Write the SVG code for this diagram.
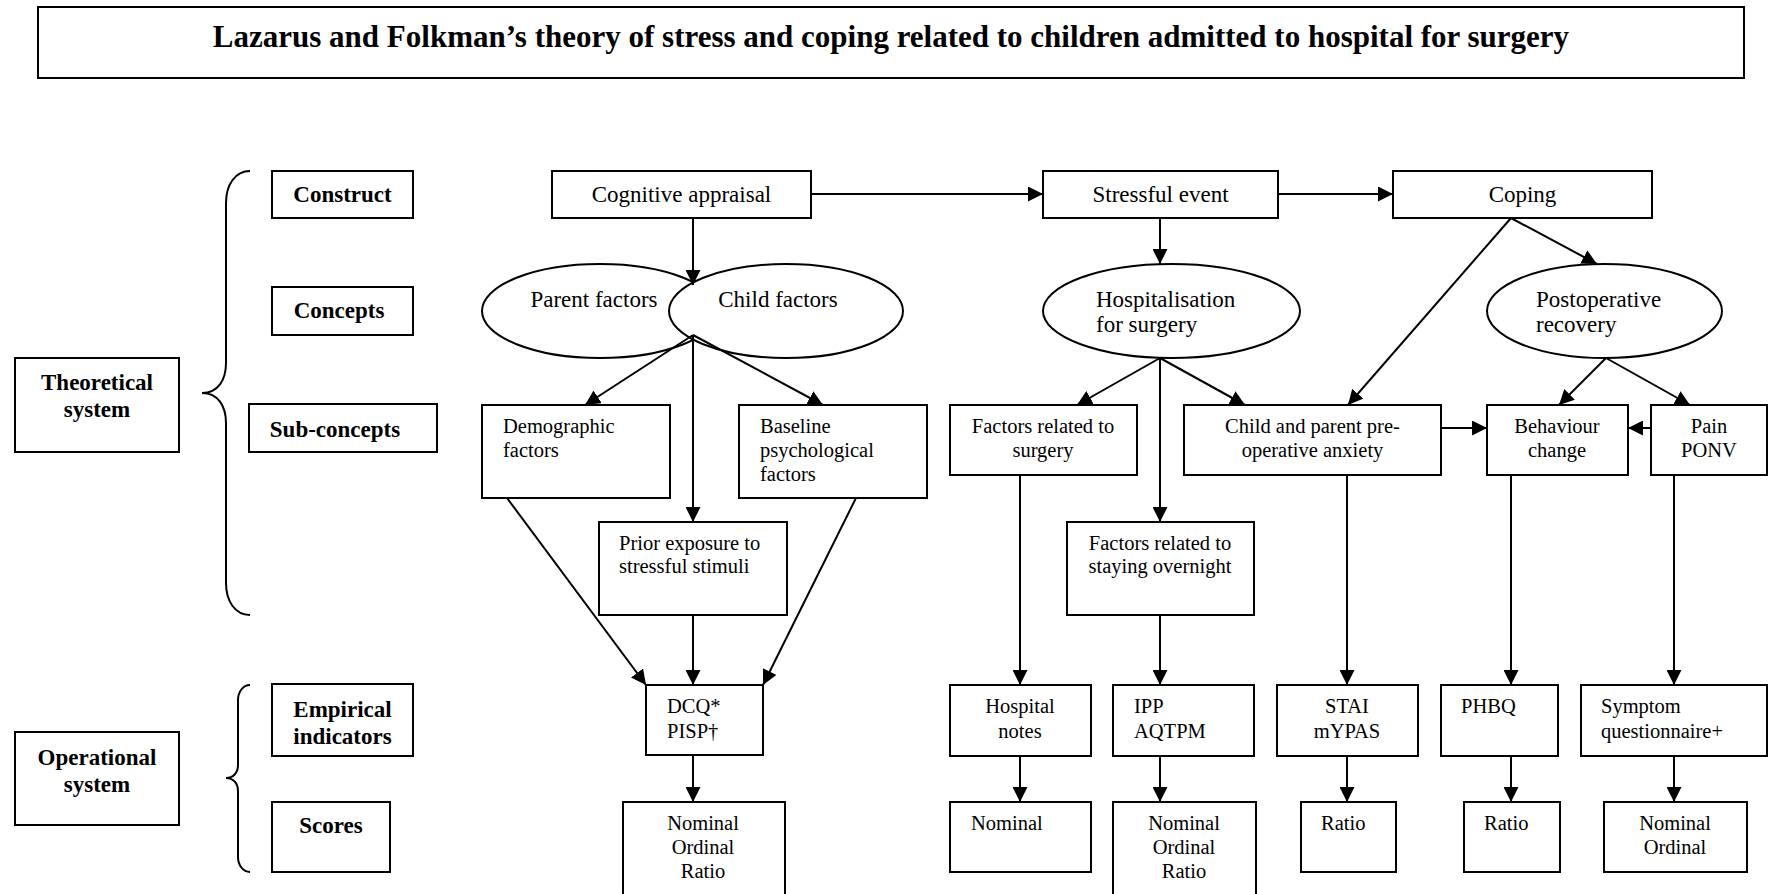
<svg xmlns="http://www.w3.org/2000/svg" width="1769" height="894" viewBox="0 0 1769 894">
<defs>
<style>
rect, ellipse { fill: none; stroke: #000; stroke-width: 2; }
.conn line { stroke: #000; stroke-width: 2; marker-end: url(#arr); }
.brace { fill: none; stroke: #000; stroke-width: 2; }
text { font-family: "Liberation Serif", "Times New Roman", serif; fill: #000; }
.b { font-weight: bold; font-size: 23px; }
.t { font-size: 23px; }
.s { font-size: 20.5px; }
.c { text-anchor: middle; }
.title { font-weight: bold; font-size: 31px; text-anchor: middle; }
</style>
<marker id="arr" markerUnits="userSpaceOnUse" markerWidth="15" markerHeight="15" viewBox="0 0 15 15" refX="15" refY="7.5" orient="auto">
<path d="M0,0 L15,7.5 L0,15 z" fill="#000"/>
</marker>
</defs>
<rect x="0" y="0" width="1769" height="894" style="fill:#fff;stroke:none"/>

<g id="title">
<rect x="38" y="7" width="1706" height="71"/>
<text class="title" x="891" y="47">Lazarus and Folkman’s theory of stress and coping related to children admitted to hospital for surgery</text>
</g>

<g id="braces">
<path class="brace" d="M250,171 C235,171 226,185 226,203 L226,363 C226,380 218,393 202,393 C218,393 226,406 226,423 L226,583 C226,601 235,615 250,615"/>
<path class="brace" d="M250,685 C243,685 238,692 238,700 L238,765 C238,773 233,778 226,778 C233,778 238,783 238,791 L238,857 C238,865 243,872 250,872"/>
</g>

<g id="theoretical-system">
<rect x="15" y="358" width="164" height="94"/>
<text class="b c" x="97" y="390">Theoretical</text>
<text class="b c" x="97" y="417">system</text>
</g>
<g id="operational-system">
<rect x="15" y="732" width="164" height="93"/>
<text class="b c" x="97" y="765">Operational</text>
<text class="b c" x="97" y="792">system</text>
</g>
<g id="label-construct">
<rect x="272" y="171" width="141" height="47"/>
<text class="b c" x="342.5" y="202">Construct</text>
</g>
<g id="label-concepts">
<rect x="272" y="287" width="141" height="48"/>
<text class="b c" x="339" y="318">Concepts</text>
</g>
<g id="label-subconcepts">
<rect x="249" y="404" width="188" height="48"/>
<text class="b c" x="335" y="437">Sub-concepts</text>
</g>
<g id="label-empirical">
<rect x="272" y="684" width="141" height="72"/>
<text class="b c" x="342.5" y="717">Empirical</text>
<text class="b c" x="342.5" y="744">indicators</text>
</g>
<g id="label-scores">
<rect x="272" y="802" width="118" height="70"/>
<text class="b c" x="331" y="833">Scores</text>
</g>

<g id="cognitive-appraisal">
<rect x="552" y="171" width="259" height="47"/>
<text class="t c" x="681.5" y="202">Cognitive appraisal</text>
</g>
<g id="stressful-event">
<rect x="1043" y="171" width="235" height="47"/>
<text class="t c" x="1160.5" y="202">Stressful event</text>
</g>
<g id="coping">
<rect x="1393" y="171" width="259" height="47"/>
<text class="t c" x="1522.5" y="202">Coping</text>
</g>

<g id="parent-factors">
<ellipse cx="600" cy="311" rx="118" ry="47"/>
<text class="t c" x="594" y="307">Parent factors</text>
</g>
<g id="child-factors">
<ellipse cx="786" cy="311" rx="117" ry="47" style="fill:#fff"/>
<text class="t c" x="778" y="307">Child factors</text>
</g>
<g id="hospitalisation">
<ellipse cx="1171.5" cy="311" rx="128.5" ry="47"/>
<text class="t" x="1096" y="307">Hospitalisation</text>
<text class="t" x="1096" y="332">for surgery</text>
</g>
<g id="postoperative-recovery">
<ellipse cx="1604.5" cy="311" rx="117.5" ry="47"/>
<text class="t" x="1536" y="307">Postoperative</text>
<text class="t" x="1536" y="332">recovery</text>
</g>

<g id="demographic-factors">
<rect x="482" y="405" width="188" height="93"/>
<text class="s" x="503" y="433">Demographic</text>
<text class="s" x="503" y="457">factors</text>
</g>
<g id="baseline-psychological">
<rect x="739" y="405" width="188" height="93"/>
<text class="s" x="760" y="433">Baseline</text>
<text class="s" x="760" y="457">psychological</text>
<text class="s" x="760" y="481">factors</text>
</g>
<g id="prior-exposure">
<rect x="599" y="522" width="188" height="93"/>
<text class="s" x="619" y="550">Prior exposure to</text>
<text class="s" x="619" y="573">stressful stimuli</text>
</g>
<g id="factors-surgery">
<rect x="950" y="405" width="187" height="70"/>
<text class="s c" x="1043" y="433">Factors related to</text>
<text class="s c" x="1043" y="457">surgery</text>
</g>
<g id="preoperative-anxiety">
<rect x="1184" y="405" width="257" height="70"/>
<text class="s c" x="1312.5" y="433">Child and parent pre-</text>
<text class="s c" x="1312.5" y="457">operative anxiety</text>
</g>
<g id="behaviour-change">
<rect x="1487" y="405" width="141" height="70"/>
<text class="s c" x="1557" y="433">Behaviour</text>
<text class="s c" x="1557" y="457">change</text>
</g>
<g id="pain-ponv">
<rect x="1651" y="405" width="116" height="70"/>
<text class="s c" x="1709" y="433">Pain</text>
<text class="s c" x="1709" y="457">PONV</text>
</g>
<g id="factors-overnight">
<rect x="1067" y="522" width="187" height="93"/>
<text class="s c" x="1160" y="550">Factors related to</text>
<text class="s c" x="1160" y="573">staying overnight</text>
</g>

<g id="dcq-pisp">
<rect x="646" y="685" width="117" height="70"/>
<text class="s" x="667" y="713">DCQ*</text>
<text class="s" x="667" y="738">PISP†</text>
</g>
<g id="hospital-notes">
<rect x="950" y="685" width="141" height="71"/>
<text class="s c" x="1020" y="713">Hospital</text>
<text class="s c" x="1020" y="738">notes</text>
</g>
<g id="ipp-aqtpm">
<rect x="1113" y="685" width="141" height="71"/>
<text class="s" x="1134" y="713">IPP</text>
<text class="s" x="1134" y="738">AQTPM</text>
</g>
<g id="stai-mypas">
<rect x="1277" y="685" width="141" height="71"/>
<text class="s c" x="1347" y="713">STAI</text>
<text class="s c" x="1347" y="738">mYPAS</text>
</g>
<g id="phbq">
<rect x="1441" y="685" width="117" height="71"/>
<text class="s" x="1461" y="713">PHBQ</text>
</g>
<g id="symptom-questionnaire">
<rect x="1581" y="685" width="186" height="71"/>
<text class="s" x="1601" y="713">Symptom</text>
<text class="s" x="1601" y="738">questionnaire+</text>
</g>

<g id="score-dcq">
<rect x="623" y="802" width="162" height="110"/>
<text class="s c" x="703" y="830">Nominal</text>
<text class="s c" x="703" y="854">Ordinal</text>
<text class="s c" x="703" y="878">Ratio</text>
</g>
<g id="score-hospital">
<rect x="950" y="802" width="141" height="70"/>
<text class="s" x="971" y="830">Nominal</text>
</g>
<g id="score-ipp">
<rect x="1113" y="802" width="143" height="110"/>
<text class="s c" x="1184" y="830">Nominal</text>
<text class="s c" x="1184" y="854">Ordinal</text>
<text class="s c" x="1184" y="878">Ratio</text>
</g>
<g id="score-stai">
<rect x="1301" y="802" width="95" height="70"/>
<text class="s" x="1321" y="830">Ratio</text>
</g>
<g id="score-phbq">
<rect x="1464" y="802" width="96" height="70"/>
<text class="s" x="1484" y="830">Ratio</text>
</g>
<g id="score-symptom">
<rect x="1604" y="802" width="143" height="70"/>
<text class="s c" x="1675" y="830">Nominal</text>
<text class="s c" x="1675" y="854">Ordinal</text>
</g>

<g id="connectors" class="conn">
<line x1="811" y1="194" x2="1043" y2="194"/>
<line x1="1278" y1="194" x2="1393" y2="194"/>
<line x1="693" y1="218" x2="693" y2="285"/>
<line x1="1160" y1="218" x2="1160" y2="264"/>
<line x1="1511" y1="218" x2="1597" y2="264"/>
<line x1="1511" y1="218" x2="1348" y2="405"/>
<line x1="693" y1="335" x2="585" y2="405"/>
<line x1="693" y1="335" x2="693" y2="522"/>
<line x1="693" y1="335" x2="823" y2="405"/>
<line x1="1160" y1="358" x2="1077" y2="405"/>
<line x1="1160" y1="358" x2="1160" y2="522"/>
<line x1="1160" y1="358" x2="1245" y2="405"/>
<line x1="1606" y1="358" x2="1559" y2="405"/>
<line x1="1606" y1="358" x2="1690" y2="405"/>
<line x1="1441" y1="428" x2="1487" y2="428"/>
<line x1="1651" y1="428" x2="1628" y2="428"/>
<line x1="507" y1="498" x2="646" y2="685"/>
<line x1="693" y1="615" x2="693" y2="685"/>
<line x1="856" y1="498" x2="763" y2="685"/>
<line x1="1020" y1="475" x2="1020" y2="685"/>
<line x1="1160" y1="615" x2="1160" y2="685"/>
<line x1="1347" y1="475" x2="1347" y2="685"/>
<line x1="1511" y1="475" x2="1511" y2="685"/>
<line x1="1674" y1="475" x2="1674" y2="685"/>
<line x1="693" y1="755" x2="693" y2="802"/>
<line x1="1020" y1="756" x2="1020" y2="802"/>
<line x1="1160" y1="756" x2="1160" y2="802"/>
<line x1="1347" y1="756" x2="1347" y2="802"/>
<line x1="1511" y1="756" x2="1511" y2="802"/>
<line x1="1674" y1="756" x2="1674" y2="802"/>
</g>
</svg>
